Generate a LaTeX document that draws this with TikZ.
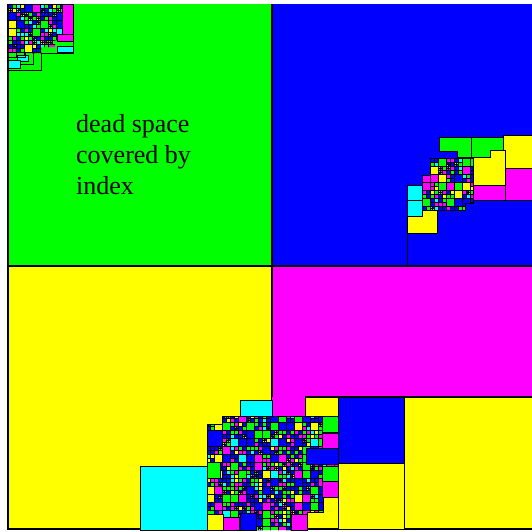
\documentclass[tikz,border=0pt]{standalone}
\usepackage{fontspec}
\setmainfont{Liberation Serif}
\definecolor{qg}{RGB}{0,255,0}
\definecolor{qb}{RGB}{0,0,255}
\definecolor{qy}{RGB}{255,255,0}
\definecolor{qm}{RGB}{255,0,255}
\definecolor{qc}{RGB}{0,255,255}
\pgfmathdeclarerandomlist{qcols}{{qg}{qb}{qy}{qm}{qc}{qb}{qg}{qm}{qb}}
\tikzset{
  blk/.style={draw=black,line width=1pt},
  edge/.style={draw=black,line width=1.1pt},
}
\newcommand\qpatch[5]{%
  \foreach \qi in {0,...,#3}{%
    \foreach \qj in {0,...,#4}{%
      \pgfmathsetmacro\qpx{#1+\qi*#5}%
      \pgfmathsetmacro\qpy{#2+\qj*#5}%
      \pgfmathsetmacro\qr{rnd}%
      \ifdim\qr pt<0.4pt
        \pgfmathrandomitem{\qcol}{qcols}%
        \filldraw[fill=\qcol,draw=black,line width=0.9pt] (\qpx,\qpy) rectangle ++(#5,#5);
      \else
        \foreach \qu/\qv in {0/0,1/0,0/1,1/1}{%
          \pgfmathsetmacro\qxx{\qpx+\qu*#5/2}%
          \pgfmathsetmacro\qyy{\qpy+\qv*#5/2}%
          \pgfmathsetmacro\qrr{rnd}%
          \ifdim\qrr pt<0.85pt
            \pgfmathrandomitem{\qcol}{qcols}%
            \filldraw[fill=\qcol,draw=black,line width=0.6pt] (\qxx,\qyy) rectangle ++(#5/2,#5/2);
          \else
            \foreach \qs/\qt in {0/0,1/0,0/1,1/1}{%
              \pgfmathrandomitem{\qcol}{qcols}%
              \filldraw[fill=\qcol,draw=black,line width=0.4pt] (\qxx+\qs*#5/4,\qyy+\qt*#5/4) rectangle ++(#5/4,#5/4);
            }%
          \fi
        }%
      \fi
    }%
  }%
}
\begin{document}
\begin{tikzpicture}[x=1pt,y=-1pt]
\pgfmathsetseed{7}
\useasboundingbox (0,0) rectangle (532,531);
\clip (0,0) rectangle (532,531);
\fill[white] (0,0) rectangle (532,531);
% quadrants
\fill[qg] (8,4) rectangle (272,266);
\fill[qb] (272,4) rectangle (536,266);
\fill[qy] (8,266) rectangle (272,529);
\fill[qm] (272,266) rectangle (536,397);
\fill[qy] (272,397) rectangle (536,529);
\draw[edge] (272,4) -- (272,416);
\draw[edge] (8,266) -- (536,266);
\draw[edge] (305,397) -- (536,397);
\draw[edge] (8,4) -- (8,529) -- (536,529);

% ---------- top-left cluster ----------
\begin{scope}
  \clip (8,4) -- (62,4) -- (62,40) -- (55,40) -- (55,47) -- (41,47) -- (41,53) -- (25,53) -- (25,57) -- (8,57) -- cycle;
  \qpatch{8}{4}{7}{7}{8}
\end{scope}
\filldraw[fill=qm,blk] (62,4) rectangle (73,34);
\filldraw[fill=qm,blk] (57,34) rectangle (73,41);
\filldraw[fill=qc,blk] (57,46) rectangle (73,52);
\filldraw[fill=qc,blk] (17,55) rectangle (28,61);
\filldraw[fill=qc,blk] (8,60) rectangle (20,68);
\draw[blk] (73,4) -- (73,53) -- (41,53) -- (41,70) -- (8,70);
\draw[blk] (8,57) -- (25,57) -- (25,53);
\draw[blk] (33,53) -- (33,64) -- (20,64);

% ---------- top-right cluster ----------
\filldraw[fill=qy,blk] (503,135) rectangle (537,168);
\filldraw[fill=qm,blk] (505,168) rectangle (537,200);
\filldraw[fill=qy,blk] (473,150) -- (505,150) -- (505,185) -- (473,185) -- cycle;
\filldraw[fill=qm,blk] (473,185) rectangle (505,200);
\filldraw[fill=qg,blk] (439,137) -- (471,137) -- (471,157) -- (457,157) -- (457,151) -- (439,151) -- cycle;
\filldraw[fill=qg,blk] (471,137) -- (503,137) -- (503,150) -- (490,150) -- (490,157) -- (471,157) -- cycle;
\filldraw[fill=qc,blk] (407,185) rectangle (422,200);
\filldraw[fill=qc,blk] (407,200) rectangle (422,216);
\filldraw[fill=qy,blk] (407,216) -- (422,216) -- (422,210) -- (437,210) -- (437,233) -- (407,233) -- cycle;
\draw[blk] (407,233) -- (407,266);
\begin{scope}
  \clip (430,158) -- (473,158) -- (473,203) -- (465,203) -- (465,210) -- (422,210) -- (422,175) -- (430,175) -- cycle;
  \qpatch{422}{158}{6}{6}{8}
\end{scope}
\draw[blk] (430,158) -- (473,158) -- (473,203) -- (465,203) -- (465,210) -- (422,210) -- (422,175) -- (430,175) -- cycle;

% ---------- bottom cluster ----------
\fill[qm] (272,397) rectangle (305,416);
\draw[blk] (272,416) -- (305,416) -- (305,397);
\filldraw[fill=qy,blk] (305,397) rectangle (338,416);
\filldraw[fill=qb,blk] (338,397) rectangle (404,463);
\filldraw[fill=qy,blk] (338,463) rectangle (404,529);
\filldraw[fill=qc,blk] (240,400) rectangle (272,416);
\filldraw[fill=qc,blk] (140,466) rectangle (207,530);
\begin{scope}
  \clip (222,416) -- (338,416) -- (338,497) -- (323,497) -- (323,512) -- (307,512) -- (307,530) -- (207,530) -- (207,424) -- (222,424) -- cycle;
  \qpatch{206}{414}{17}{15}{8}
\end{scope}
\filldraw[fill=qg,blk] (322,416) rectangle (338,432);
\filldraw[fill=qm,blk] (322,433) rectangle (338,448);
\filldraw[fill=qb,blk] (306,448) rectangle (338,464);
\filldraw[fill=qg,blk] (322,466) rectangle (338,481);
\filldraw[fill=qm,blk] (322,481) rectangle (338,497);
\filldraw[fill=qb,blk] (207,430) rectangle (222,446);
\filldraw[fill=qg,blk] (207,462) rectangle (220,478);
\filldraw[fill=qy,blk] (207,514) rectangle (223,530);
\filldraw[fill=qm,blk] (223,517) rectangle (239,530);
\filldraw[fill=qb,blk] (240,513) rectangle (256,530);
\filldraw[fill=qm,blk] (291,514) rectangle (307,530);
\draw[blk] (222,416) -- (338,416) -- (338,497) -- (323,497) -- (323,512) -- (307,512) -- (307,530);
\draw[blk] (207,530) -- (207,424) -- (222,424) -- (222,416);

% ---------- label ----------
\node[anchor=north west,inner sep=0pt,align=left,font=\fontsize{26}{31}\selectfont] (lbl) at (76,114) {dead space\\covered by\\index};
\end{tikzpicture}
\end{document}
